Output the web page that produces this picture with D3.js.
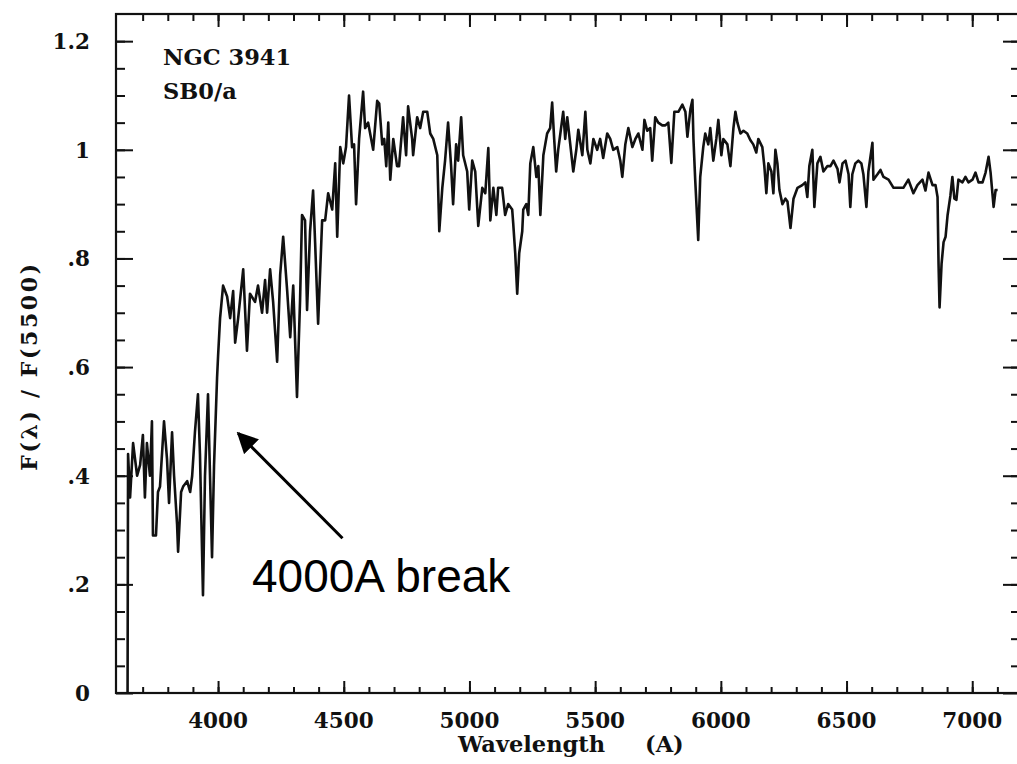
<!DOCTYPE html>
<html>
<head>
<meta charset="utf-8">
<script src="https://cdn.jsdelivr.net/npm/d3@7"></script>
<style>
  html, body { margin: 0; padding: 0; background: #fff; }
  svg { display: block; }
  .lab { font-family: "DejaVu Serif", serif; font-weight: bold; fill: #111; }
</style>
</head>
<body>
<svg id="chart" width="1017" height="764"></svg>
<script>
// Spectrum of NGC 3941 (SB0/a), normalised to the flux at 5500 A
const wavelength = [
  3640, 3642, 3650, 3662, 3678, 3690, 3701, 3709, 3717, 3729, 3737, 3741, 3753, 3761, 3769,
  3785, 3797, 3805, 3817, 3825, 3837, 3841, 3853, 3861, 3877, 3889, 3897, 3908, 3920, 3928,
  3940, 3948, 3960, 3976, 3984, 3996, 4000, 4008, 4020, 4036, 4048, 4060, 4068, 4080, 4100,
  4115, 4127, 4147, 4159, 4175, 4187, 4195, 4207, 4219, 4235, 4247, 4259, 4275, 4287, 4299,
  4314, 4326, 4334, 4346, 4354, 4366, 4378, 4386, 4398, 4414, 4426, 4438, 4454, 4466, 4474,
  4486, 4498, 4509, 4521, 4533, 4541, 4549, 4561, 4577, 4585, 4597, 4613, 4617, 4633, 4641,
  4653, 4661, 4669, 4677, 4685, 4697, 4712, 4720, 4736, 4748, 4756, 4772, 4776, 4792, 4804,
  4816, 4832, 4844, 4856, 4872, 4880, 4892, 4903, 4915, 4927, 4935, 4947, 4955, 4967, 4975,
  4991, 4999, 5011, 5023, 5035, 5051, 5063, 5075, 5083, 5095, 5107, 5114, 5130, 5142, 5154,
  5170, 5174, 5182, 5190, 5198, 5210, 5214, 5226, 5234, 5242, 5254, 5266, 5274, 5282, 5294,
  5309, 5321, 5329, 5337, 5345, 5353, 5373, 5381, 5389, 5401, 5413, 5425, 5433, 5449, 5461,
  5469, 5481, 5493, 5508, 5520, 5532, 5548, 5560, 5572, 5588, 5600, 5608, 5620, 5632, 5648,
  5660, 5672, 5688, 5696, 5707, 5719, 5727, 5739, 5751, 5767, 5779, 5791, 5803, 5815, 5831,
  5847, 5859, 5867, 5879, 5887, 5891, 5898, 5910, 5918, 5930, 5938, 5950, 5958, 5970, 5982,
  5990, 6002, 6010, 6026, 6038, 6050, 6058, 6066, 6078, 6090, 6105, 6117, 6129, 6141, 6149,
  6165, 6173, 6181, 6189, 6201, 6209, 6217, 6225, 6233, 6245, 6257, 6265, 6277, 6289, 6305,
  6324, 6336, 6344, 6352, 6364, 6372, 6384, 6396, 6408, 6424, 6436, 6448, 6464, 6472, 6484,
  6496, 6508, 6515, 6523, 6535, 6547, 6559, 6567, 6579, 6587, 6603, 6607, 6623, 6635, 6647,
  6667, 6687, 6706, 6726, 6746, 6766, 6782, 6802, 6814, 6826, 6842, 6854, 6862, 6866, 6870,
  6878, 6886, 6894, 6902, 6913, 6921, 6929, 6937, 6945, 6961, 6973, 6985, 7001, 7013, 7025,
  7041, 7053, 7065, 7073, 7085, 7093, 7101
];
const flux = [
  0.00, 0.44, 0.36, 0.46, 0.40, 0.42, 0.475, 0.36, 0.46, 0.40, 0.50, 0.29, 0.29, 0.37, 0.38,
  0.50, 0.43, 0.35, 0.48, 0.40, 0.31, 0.26, 0.37, 0.38, 0.39, 0.37, 0.40, 0.48, 0.55, 0.44,
  0.18, 0.40, 0.55, 0.25, 0.42, 0.58, 0.62, 0.69, 0.75, 0.73, 0.69, 0.74, 0.645, 0.69, 0.78,
  0.63, 0.735, 0.72, 0.75, 0.70, 0.76, 0.70, 0.78, 0.72, 0.61, 0.77, 0.84, 0.74, 0.655, 0.75,
  0.545, 0.72, 0.88, 0.87, 0.705, 0.85, 0.925, 0.83, 0.68, 0.87, 0.87, 0.92, 0.89, 0.975, 0.84,
  1.005, 0.975, 1.005, 1.10, 1.005, 1.01, 0.90, 1.02, 1.107, 1.04, 1.05, 1.01, 1.00, 1.09, 1.085,
  1.01, 1.02, 0.97, 1.05, 0.945, 1.02, 0.97, 0.97, 1.06, 0.99, 1.08, 1.02, 0.99, 1.06, 1.04,
  1.07, 1.07, 1.03, 1.02, 0.99, 0.85, 0.93, 0.98, 1.05, 0.97, 0.90, 1.01, 0.98, 1.06, 0.99,
  0.96, 0.89, 0.98, 0.96, 0.86, 0.93, 0.92, 1.003, 0.87, 0.93, 0.88, 0.93, 0.93, 0.88, 0.90,
  0.89, 0.865, 0.81, 0.735, 0.81, 0.85, 0.89, 0.90, 0.88, 0.975, 1.005, 0.95, 0.97, 0.88, 0.99,
  1.03, 1.04, 1.087, 1.02, 0.96, 1.00, 1.07, 1.02, 1.06, 1.01, 0.96, 1.00, 1.037, 0.99, 1.07,
  1.00, 0.975, 1.02, 1.00, 1.02, 0.985, 1.03, 1.02, 1.00, 1.005, 0.98, 0.95, 1.01, 1.04, 1.005,
  1.02, 1.03, 1.00, 1.055, 1.035, 1.04, 0.98, 1.06, 1.05, 1.045, 1.045, 1.05, 0.976, 1.07, 1.07,
  1.083, 1.07, 1.024, 1.075, 1.092, 1.02, 0.945, 0.834, 0.95, 1.005, 1.03, 1.01, 1.04, 0.98, 1.02,
  1.055, 0.99, 1.02, 1.01, 0.97, 1.04, 1.07, 1.05, 1.03, 1.035, 1.03, 1.018, 1.01, 0.995, 1.02,
  1.005, 0.97, 0.92, 0.975, 0.96, 0.92, 1.00, 0.975, 0.926, 0.90, 0.91, 0.905, 0.856, 0.91, 0.93,
  0.935, 0.94, 0.913, 0.97, 1.00, 0.895, 0.975, 0.987, 0.96, 0.97, 0.97, 0.98, 0.965, 0.94, 0.975,
  0.98, 0.955, 0.895, 0.955, 0.975, 0.98, 0.975, 0.955, 0.895, 0.96, 1.013, 0.945, 0.955, 0.963, 0.95,
  0.945, 0.93, 0.93, 0.93, 0.945, 0.92, 0.935, 0.945, 0.925, 0.958, 0.935, 0.935, 0.913, 0.79, 0.71,
  0.79, 0.83, 0.84, 0.88, 0.915, 0.95, 0.91, 0.908, 0.945, 0.94, 0.95, 0.94, 0.945, 0.958, 0.94,
  0.94, 0.958, 0.987, 0.958, 0.895, 0.926, 0.926
];

// Axis ticks
const xMajorTicks = [4000, 4500, 5000, 5500, 6000, 6500, 7000];
const xMinorTicks = d3.range(3700, 7200, 100);
const yMajorTicks = [0, 0.2, 0.4, 0.6, 0.8, 1.0, 1.2];
const yMinorTicks = d3.range(0.05, 1.25, 0.05);
const yTickLabels = ["0", ".2", ".4", ".6", ".8", "1", "1.2"];

const titleLines = ["NGC 3941", "SB0/a"];
const annotation = { text: "4000A break", from: [4495, 0.285], to: [4080, 0.478] };

const svg = d3.select("#chart");
const frame = { left: 116, right: 1020, top: 14, bottom: 693 };

const x = d3.scaleLinear().domain([3594, 7190]).range([frame.left, frame.right]);
const y = d3.scaleLinear().domain([0, 1.25]).range([frame.bottom, frame.top]);

svg.append("defs").append("clipPath").attr("id", "plotClip")
  .append("rect")
  .attr("x", frame.left).attr("y", frame.top)
  .attr("width", frame.right - frame.left).attr("height", frame.bottom - frame.top);

// Ticks on all four sides, pointing inwards
function tickAxis(axisFn, scale, ticks, size) {
  return axisFn(scale).tickValues(ticks).tickSize(size).tickFormat("");
}
const tickStyle = g => {
  g.select(".domain").remove();
  g.selectAll(".tick line").attr("stroke", "#111").attr("stroke-width", 2);
};

svg.append("g").attr("transform", `translate(0,${frame.bottom})`)
  .call(tickAxis(d3.axisTop, x, xMinorTicks, 6)).call(tickStyle);
svg.append("g").attr("transform", `translate(0,${frame.bottom})`)
  .call(tickAxis(d3.axisTop, x, xMajorTicks, 12)).call(tickStyle);
svg.append("g").attr("transform", `translate(0,${frame.top})`)
  .call(tickAxis(d3.axisBottom, x, xMinorTicks, 7)).call(tickStyle);
svg.append("g").attr("transform", `translate(0,${frame.top})`)
  .call(tickAxis(d3.axisBottom, x, xMajorTicks, 13)).call(tickStyle);
svg.append("g").attr("transform", `translate(${frame.left},0)`)
  .call(tickAxis(d3.axisRight, y, yMinorTicks, 9)).call(tickStyle);
svg.append("g").attr("transform", `translate(${frame.left},0)`)
  .call(tickAxis(d3.axisRight, y, yMajorTicks, 17)).call(tickStyle);
svg.append("g").attr("transform", `translate(${frame.right},0)`)
  .call(tickAxis(d3.axisLeft, y, yMinorTicks, 9)).call(tickStyle);
svg.append("g").attr("transform", `translate(${frame.right},0)`)
  .call(tickAxis(d3.axisLeft, y, yMajorTicks, 17)).call(tickStyle);

// Plot frame
svg.append("rect")
  .attr("x", frame.left).attr("y", frame.top)
  .attr("width", frame.right - frame.left).attr("height", frame.bottom - frame.top)
  .attr("fill", "none").attr("stroke", "#111").attr("stroke-width", 2.2);

// Tick labels
svg.append("g").selectAll("text").data(xMajorTicks).join("text")
  .attr("class", "lab")
  .attr("x", d => x(d)).attr("y", 728)
  .attr("text-anchor", "middle").attr("font-size", 21.5)
  .text(d => d);

svg.append("g").selectAll("text").data(yMajorTicks).join("text")
  .attr("class", "lab")
  .attr("x", 90).attr("y", d => y(d) + 8)
  .attr("text-anchor", "end").attr("font-size", 21.5)
  .text((d, i) => yTickLabels[i]);

// Axis titles
svg.append("text").attr("class", "lab")
  .attr("x", 458).attr("y", 752).attr("font-size", 22.5)
  .text("Wavelength");
svg.append("text").attr("class", "lab")
  .attr("x", 645).attr("y", 752).attr("font-size", 22.5)
  .text("(A)");

svg.append("text").attr("class", "lab")
  .attr("transform", "translate(37,366) rotate(-90)")
  .attr("text-anchor", "middle").attr("font-size", 22)
  .attr("letter-spacing", 2.6)
  .style("white-space", "pre")
  .text("F(λ) / F(5500)");

// Object name and type
svg.append("g").selectAll("text").data(titleLines).join("text")
  .attr("class", "lab")
  .attr("x", 163).attr("y", (d, i) => 65 + i * 34)
  .attr("font-size", 22.5)
  .text(d => d);

// Spectrum
const pts = wavelength.map((w, i) => [w, flux[i]]);
svg.append("path")
  .datum(pts)
  .attr("clip-path", "url(#plotClip)")
  .attr("fill", "none").attr("stroke", "#111")
  .attr("stroke-width", 2.6).attr("stroke-linejoin", "round")
  .attr("d", d3.line().x(d => x(d[0])).y(d => y(d[1])));

// Annotation arrow and label
svg.append("defs").append("marker")
  .attr("id", "arrowHead").attr("viewBox", "0 0 10 10")
  .attr("refX", 9).attr("refY", 5)
  .attr("markerWidth", 7).attr("markerHeight", 7)
  .attr("markerUnits", "strokeWidth")
  .attr("orient", "auto")
  .append("path").attr("d", "M0,0 L10,5 L0,10 Z").attr("fill", "#000");

svg.append("line")
  .attr("x1", x(annotation.from[0])).attr("y1", y(annotation.from[1]))
  .attr("x2", x(annotation.to[0])).attr("y2", y(annotation.to[1]))
  .attr("stroke", "#000").attr("stroke-width", 3)
  .attr("marker-end", "url(#arrowHead)");

svg.append("text")
  .attr("x", 252).attr("y", 592)
  .attr("font-family", "Liberation Sans, Arial, sans-serif")
  .attr("font-size", 46).attr("fill", "#000")
  .text(annotation.text);
</script>
</body>
</html>
